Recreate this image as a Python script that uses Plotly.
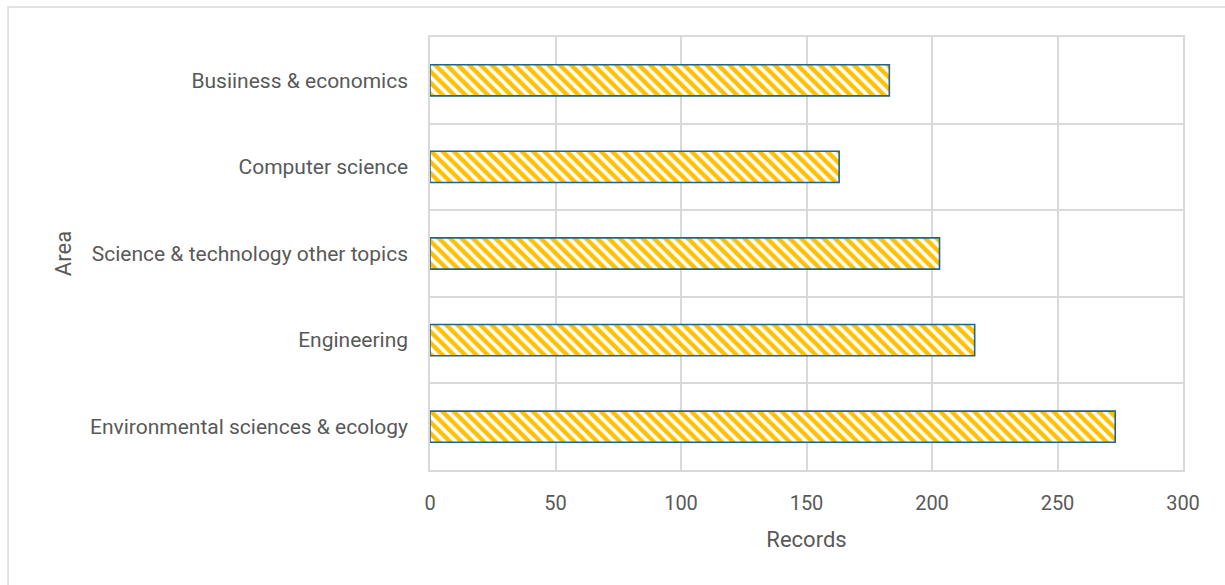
import plotly.graph_objects as go

categories = ["Environmental sciences & ecology", "Engineering",
              "Science & technology other topics", "Computer science",
              "Busiiness & economics"]
records = [273, 217, 203, 163, 183]
x_ticks = [0, 50, 100, 150, 200, 250, 300]

FONT = "Roboto"
TXT = "#595959"
GRID = "#D9D9D9"

fig = go.Figure(go.Bar(
    y=categories, x=records, orientation="h", width=0.36,
    marker=dict(color="white",
                line=dict(color="#22648A", width=1.6),
                pattern=dict(shape="\\", fgcolor="#FFC000", bgcolor="white",
                             fgopacity=1, size=8, solidity=0.55,
                             fillmode="overlay")),
))

fig.update_layout(
    width=1225, height=585,
    margin=dict(l=430, r=42, t=37, b=115),
    plot_bgcolor="white", paper_bgcolor="white",
    showlegend=False,
    font=dict(family=FONT, color=TXT, size=20),
    xaxis=dict(range=[0, 300], tickvals=x_ticks, showgrid=True, gridcolor=GRID,
               gridwidth=1.5, zeroline=False, showline=True, mirror=True,
               linecolor=GRID, linewidth=1.5, ticks="", ticklabelstandoff=14,
               tickfont=dict(size=20, color=TXT),
               title=dict(text="Records", font=dict(size=22, color=TXT), standoff=18)),
    yaxis=dict(type="category", categoryorder="array", categoryarray=categories,
               range=[-0.5, 4.5], tickson="boundaries", showgrid=True,
               gridcolor=GRID, gridwidth=1.5, ticks="", showline=True, mirror=True,
               linecolor=GRID, linewidth=1.5,
               zeroline=False, ticklabelstandoff=16,
               tickfont=dict(size=21, color=TXT),
               title=dict(text="Area", font=dict(size=22, color=TXT), standoff=12)),
    shapes=[dict(type="rect", xref="paper", yref="paper",
                 x0=-0.5604, x1=1.2, y0=-0.5, y1=1.0693,
                 line=dict(color=GRID, width=1.5), fillcolor="rgba(0,0,0,0)",
                 layer="below")],
)

fig.write_html("out.html")
